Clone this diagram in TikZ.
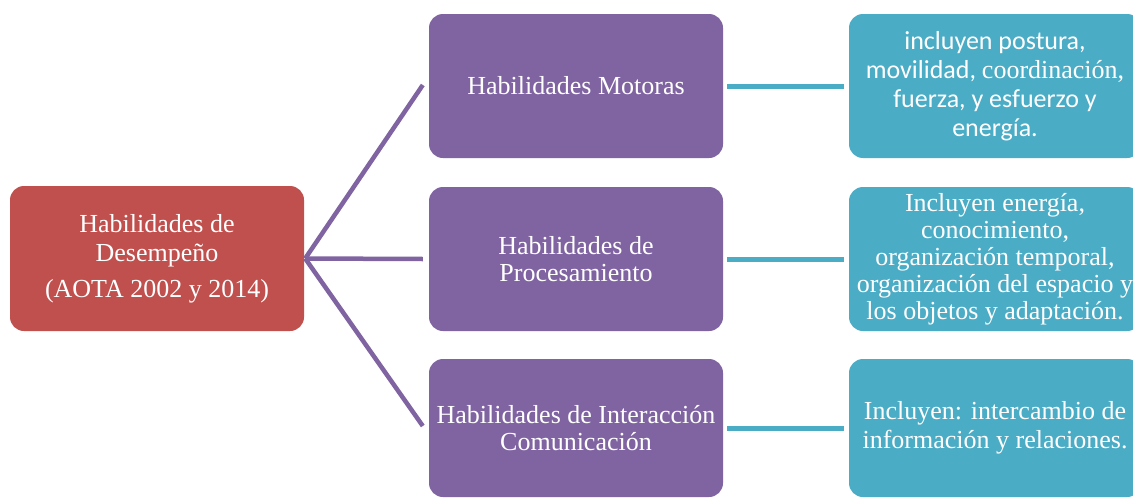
\documentclass[tikz,border=0pt]{standalone}
\usepackage{fontspec}
\setmainfont{Liberation Serif}
\newfontfamily\calibri{Carlito}
\newfontfamily\timesf{Liberation Serif}
\definecolor{redbox}{HTML}{C0504D}
\definecolor{purplebox}{HTML}{8064A2}
\definecolor{cyanbox}{HTML}{4BACC6}
\begin{document}
\begin{tikzpicture}[x=1pt,y=-1pt,
  box/.style={rectangle, rounded corners=14pt, inner sep=0pt, align=center,
    text=white, minimum width=294pt, minimum height=144pt},
  rootbox/.style={box, fill=redbox, minimum height=145pt},
  midbox/.style={box, fill=purplebox},
  leafbox/.style={box, fill=cyanbox, minimum width=292pt},
  txt/.style={font=\timesf\fontsize{26}{27}\selectfont},
  txtb/.style={font=\timesf\fontsize{26}{29}\selectfont},
  purpleline/.style={draw=purplebox, line width=4.5pt},
  cyanline/.style={draw=cyanbox, line width=5pt}]
\useasboundingbox (0,0) rectangle (1133,498);
\clip (0,0) rectangle (1133,498);
\fill[white] (0,0) rectangle (1133,498);

\node[rootbox, txtb] (root) at (157,258.5) {Habilidades de\\Desempeño\\[7pt](AOTA 2002 y 2014)};

\node[midbox, txt] (m1) at (576,86) {Habilidades Motoras};
\node[midbox, txt] (m2) at (576,259) {Habilidades de\\Procesamiento};
\node[midbox, txt, minimum height=138pt] (m3) at (576,428) {Habilidades de Interacción\\Comunicación};

\node[leafbox, font=\calibri\fontsize{26}{29}\selectfont] (c1) at (995,86)
  {incluyen postura,\\movilidad, {\timesf coordinación,}\\fuerza, y esfuerzo y\\energía.};
\node[leafbox, txt] (c2) at (995,259)
  {Incluyen energía,\\conocimiento,\\organización temporal,\\organización del espacio y\\los objetos y adaptación.};
\node[leafbox, txtb, minimum height=138pt] (c3) at (995,428)
  {Incluyen: intercambio de\\información y relaciones.};

\coordinate (hub) at ([xshift=1pt]root.east);
\draw[purpleline] (hub) -- ([xshift=-6pt,yshift=1pt]m1.west);
\draw[purpleline] (hub) -- ([xshift=-6pt]m2.west);
\draw[purpleline] (hub) -- ([xshift=-6pt,yshift=2pt]m3.west);

\draw[cyanline] ([xshift=4pt]m1.east) -- ([xshift=-5pt]c1.west);
\draw[cyanline] ([xshift=4pt]m2.east) -- ([xshift=-5pt]c2.west);
\draw[cyanline] ([xshift=4pt]m3.east) -- ([xshift=-5pt]c3.west);
\end{tikzpicture}
\end{document}
